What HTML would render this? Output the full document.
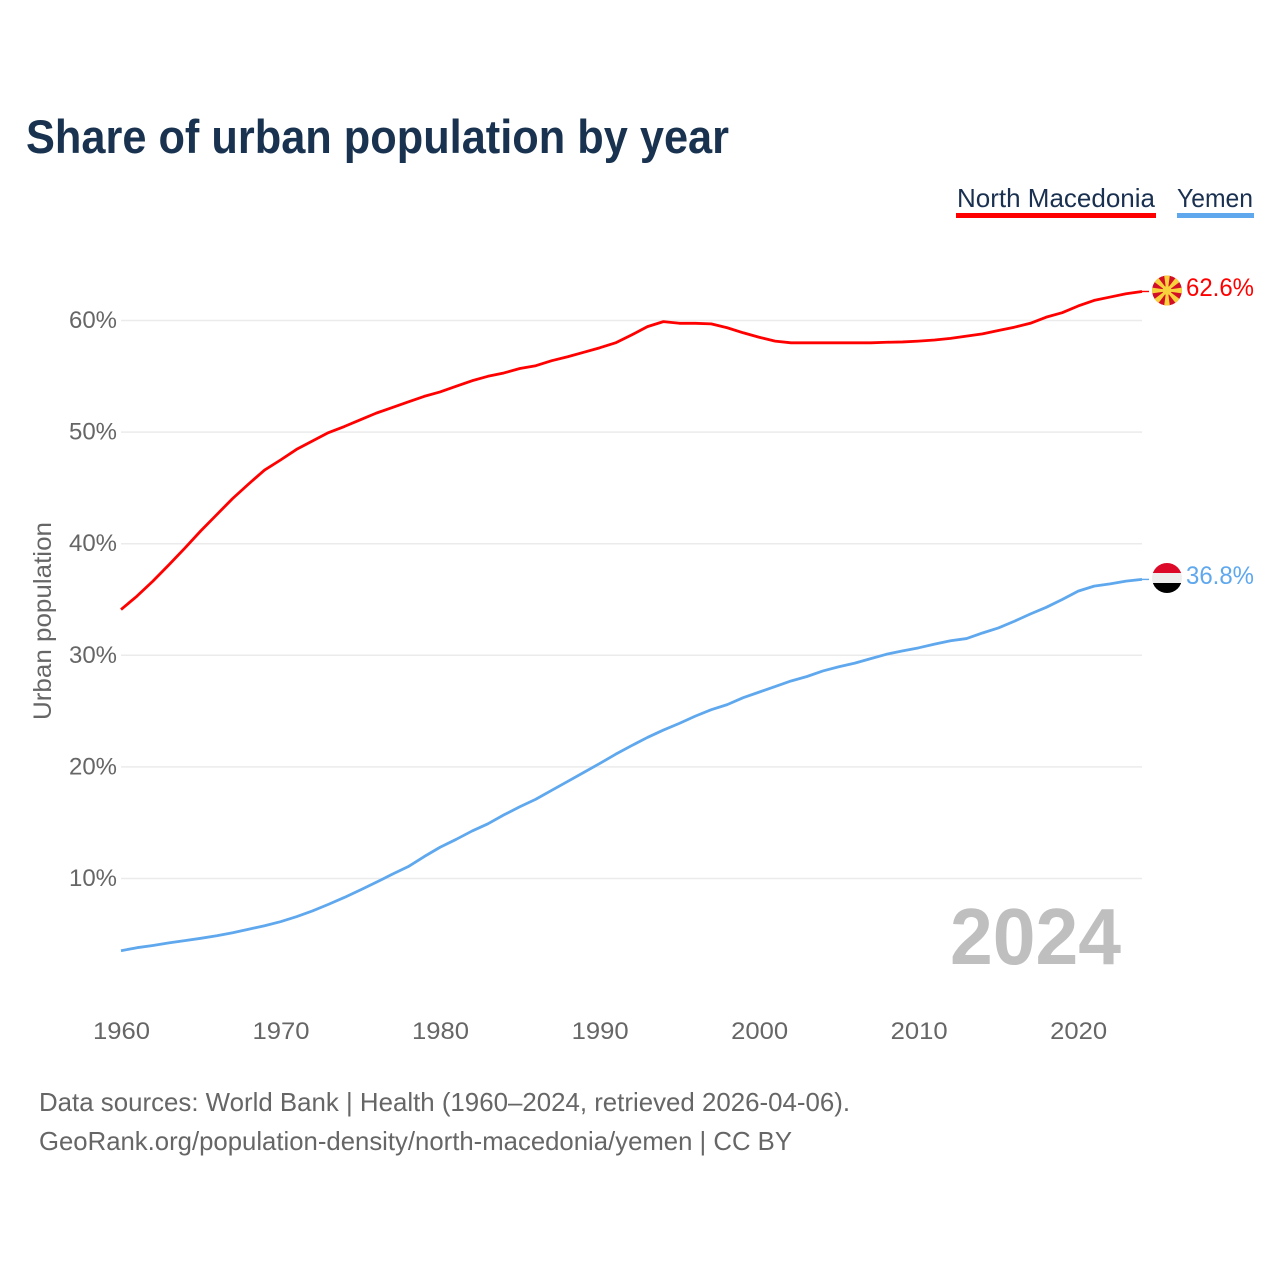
<!DOCTYPE html>
<html lang="en">
<head>
<meta charset="utf-8">
<title>Share of urban population by year</title>
<style>
html,body{margin:0;padding:0;background:#fff;}
svg{display:block;}
text{font-family:"Liberation Sans",sans-serif;}
</style>
</head>
<body>
<svg id="chart" xmlns="http://www.w3.org/2000/svg" width="1280" height="1280" viewBox="0 0 1280 1280">
  <defs>
    <clipPath id="clip-mk"><circle cx="1167" cy="290.5" r="15"/></clipPath>
    <clipPath id="clip-ye"><circle cx="1167" cy="578" r="15"/></clipPath>
  </defs>
  <rect x="0" y="0" width="1280" height="1280" fill="#fff"/>
  <text x="26" y="153" font-size="47" font-weight="700" fill="#18324f" textLength="703" lengthAdjust="spacingAndGlyphs">Share of urban population by year</text>

  <text x="957" y="207" font-size="26" fill="#1a3050" textLength="198" lengthAdjust="spacingAndGlyphs">North Macedonia</text>
  <rect x="956" y="213" width="200" height="5" fill="#ff0000"/>
  <text x="1177" y="207" font-size="26" fill="#1a3050" textLength="76" lengthAdjust="spacingAndGlyphs">Yemen</text>
  <rect x="1177" y="213" width="77" height="5" fill="#5fa8ee"/>

  <g id="grid"></g>
  <g id="y-ticks"></g>
  <g id="x-ticks"></g>

  <text transform="translate(51,720) rotate(-90)" font-size="25" fill="#666" textLength="198" lengthAdjust="spacingAndGlyphs">Urban population</text>

  <text x="950" y="964" font-size="80" font-weight="700" fill="#bfbfbf" textLength="171" lengthAdjust="spacingAndGlyphs">2024</text>

  <g id="series"></g>

  <g clip-path="url(#clip-mk)">
    <circle cx="1167" cy="290.5" r="15" fill="#d20f26"/>
    <g id="mk-rays" fill="#f8d23c"></g>
    <circle cx="1167" cy="290.5" r="4.5" fill="#f8d23c"/>
  </g>
  <g clip-path="url(#clip-ye)">
    <rect x="1152" y="563" width="30" height="10" fill="#dc0a28"/>
    <rect x="1152" y="573" width="30" height="10" fill="#eeeeee"/>
    <rect x="1152" y="583" width="30" height="10" fill="#000000"/>
  </g>

  <text x="1186" y="296" font-size="25" fill="#ff0000" textLength="68" lengthAdjust="spacingAndGlyphs">62.6%</text>
  <text x="1186" y="584" font-size="25" fill="#5fa8ee" textLength="68" lengthAdjust="spacingAndGlyphs">36.8%</text>

  <text x="39" y="1111" font-size="26" fill="#666" textLength="811" lengthAdjust="spacingAndGlyphs">Data sources: World Bank | Health (1960–2024, retrieved 2026-04-06).</text>
  <text x="39" y="1150" font-size="26" fill="#666" textLength="753" lengthAdjust="spacingAndGlyphs">GeoRank.org/population-density/north-macedonia/yemen | CC BY</text>
</svg>
<script>
var startYear = 1960;
var yearTicks = [1960, 1970, 1980, 1990, 2000, 2010, 2020];
var percentTicks = [10, 20, 30, 40, 50, 60];
var northMacedonia = [34.1,35.3,36.65,38.1,39.6,41.15,42.6,44.05,45.35,46.6,47.5,48.45,49.2,49.95,50.5,51.1,51.7,52.2,52.7,53.2,53.6,54.1,54.6,55.0,55.3,55.7,55.95,56.4,56.75,57.15,57.55,58.0,58.7,59.45,59.9,59.75,59.75,59.7,59.35,58.9,58.5,58.15,58.0,58.0,58.0,58.0,58.0,58.0,58.05,58.08,58.15,58.25,58.4,58.6,58.8,59.1,59.4,59.75,60.3,60.7,61.3,61.8,62.1,62.4,62.6];
var yemen = [3.53,3.8,4.0,4.23,4.43,4.64,4.87,5.14,5.45,5.77,6.13,6.58,7.09,7.68,8.3,8.97,9.66,10.38,11.06,11.96,12.8,13.5,14.25,14.9,15.7,16.43,17.1,17.9,18.7,19.5,20.3,21.13,21.9,22.64,23.3,23.9,24.55,25.13,25.58,26.2,26.7,27.2,27.7,28.1,28.6,28.97,29.3,29.7,30.1,30.4,30.67,31.0,31.3,31.5,32.0,32.45,33.05,33.7,34.3,35.0,35.75,36.2,36.4,36.65,36.8];

var NS = 'http://www.w3.org/2000/svg';
var plotLeft = 121;
var plotRight = 1142;
var connectorEnd = 1149;

function xScale(year) {
  return plotLeft + (year - startYear) * 15.953;
}
function yScale(value) {
  return 878.5 - (value - 10) * 11.16;
}
function make(tag, attrs, parent) {
  var el = document.createElementNS(NS, tag);
  for (var k in attrs) { el.setAttribute(k, attrs[k]); }
  parent.appendChild(el);
  return el;
}

var grid = document.getElementById('grid');
var yGroup = document.getElementById('y-ticks');
percentTicks.forEach(function (p) {
  var y = yScale(p);
  var line = make('line', {x1: plotLeft, x2: plotRight, y1: y, y2: y, stroke: '#ebebeb', 'stroke-width': 1.5}, grid);
  
  
  var label = make('text', {x: 117, y: y + 7.5, 'text-anchor': 'end', 'font-size': 24, fill: '#666', textLength: 48, lengthAdjust: 'spacingAndGlyphs'}, yGroup);
  
  
  label.textContent = p + '%';
});

var xGroup = document.getElementById('x-ticks');
yearTicks.forEach(function (yr) {
  var label = make('text', {x: xScale(yr) + 0.5, y: 1039, 'text-anchor': 'middle', 'font-size': 24, fill: '#666', textLength: 57, lengthAdjust: 'spacingAndGlyphs'}, xGroup);
  
  
  label.textContent = yr;
});

function drawSeries(values, color, name) {
  var group = document.getElementById('series');
  var d = values.map(function (v, i) {
    return (i ? 'L' : 'M') + xScale(startYear + i).toFixed(2) + ' ' + yScale(v).toFixed(2);
  }).join(' ');
  var path = make('path', {d: d, fill: 'none', stroke: color, 'stroke-width': 2.8, 'stroke-linejoin': 'round'}, group);
  
  
  var lastY = yScale(values[values.length - 1]);
  var link = make('line', {x1: plotRight, x2: connectorEnd, y1: lastY, y2: lastY, stroke: color, 'stroke-width': 1.4}, group);
  
  
}
drawSeries(northMacedonia, '#ff0000', 'line-north-macedonia');
drawSeries(yemen, '#5fa8ee', 'line-yemen');

var rays = document.getElementById('mk-rays');
for (var a = 0; a < 8; a++) {
  make('polygon', {points: '1166.2,290.5 1167.8,290.5 1170.3,272 1163.7,272', transform: 'rotate(' + (a * 45) + ' 1167 290.5)'}, rays);
}
</script>
</body>
</html>
